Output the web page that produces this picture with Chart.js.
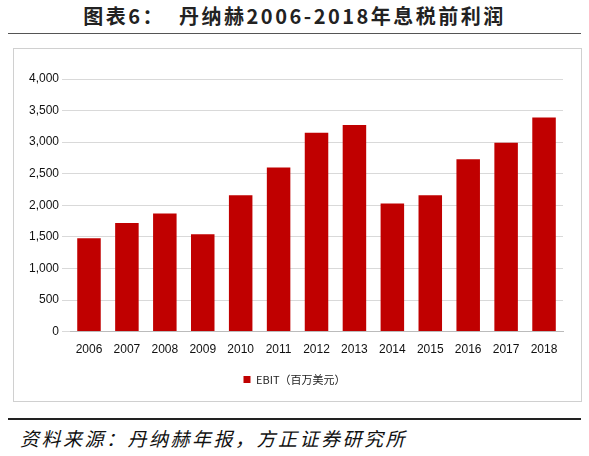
<!DOCTYPE html>
<html><head><meta charset="utf-8">
<script src="https://cdn.jsdelivr.net/npm/chart.js@4/dist/chart.umd.min.js"></script>
<style>
body{margin:0;width:589px;height:456px;background:#fff;font-family:"Noto Sans CJK SC",sans-serif;position:relative;overflow:hidden}
#title{position:absolute;left:0;top:1px;width:589px;text-align:center;font-size:20px;font-weight:bold;color:#222;letter-spacing:2.5px}
#tl{position:absolute;left:8px;top:33px;width:573px;height:0;border-top:1.5px solid #555}
#box{position:absolute;left:13px;top:48px;width:567px;height:352px;border:1px solid #d0d0d0}
#bl{position:absolute;left:8px;top:418px;width:573px;border-top:2.5px solid #222}
#src{position:absolute;left:20px;top:424px;font-size:19px;font-style:italic;color:#111;letter-spacing:2.5px}
</style></head><body>
<div id="title">图表6：&nbsp;&nbsp;丹纳赫2006-2018年息税前利润</div>
<div id="tl"></div>
<div id="box"><canvas id="c" width="567" height="352"></canvas></div>
<div id="bl"></div>
<div id="src">资料来源：丹纳赫年报，方正证券研究所</div>
<script>
const years=["2006","2007","2008","2009","2010","2011","2012","2013","2014","2015","2016","2017","2018"];
const ebit=[1480,1720,1870,1540,2160,2600,3150,3270,2030,2160,2730,2990,3390];
new Chart(document.getElementById('c'),{type:'bar',
data:{labels:years,datasets:[{label:'EBIT（百万美元）',data:ebit,backgroundColor:'#c00000',barPercentage:0.62,categoryPercentage:1}]},
options:{responsive:false,animation:false,
layout:{padding:{top:30,right:18,left:12,bottom:6}},
plugins:{legend:{position:'bottom',labels:{boxWidth:7,boxHeight:7,padding:14,font:{size:11,family:'"Noto Sans CJK SC"'},color:'#222'}},tooltip:{enabled:false}},
scales:{x:{grid:{display:false},border:{color:'#bbb'},ticks:{color:'#111',font:{size:12}}},
y:{min:0,max:4000,ticks:{stepSize:500,color:'#111',font:{size:12},callback:v=>v.toLocaleString('en-US')},grid:{color:'#d9d9d9'},border:{display:false}}}}});
</script></body></html>
